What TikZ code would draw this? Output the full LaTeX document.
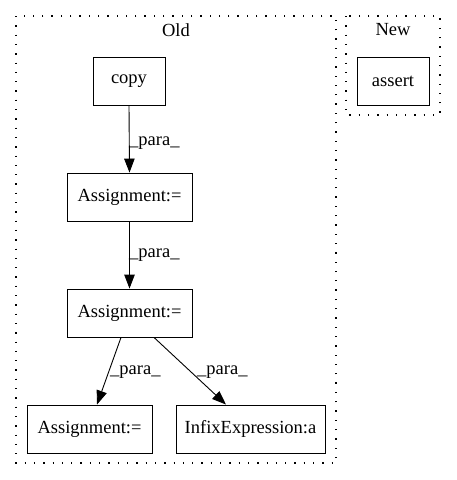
\documentclass[tikz,border=0pt]{standalone}
\usepackage{fontspec}
\setmainfont{Liberation Serif}
\usetikzlibrary{arrows.meta}
\begin{document}
\begin{tikzpicture}[x=1pt,y=-1pt,
  box/.style={draw,line width=0.9pt,rectangle,inner sep=0pt,font=\fontsize{18.5pt}{20pt}\selectfont},
  cluster/.style={draw,line width=1.3pt,dash pattern=on 1.3pt off 8pt},
  edge/.style={line width=0.9pt,-{Triangle[length=14pt,width=10.5pt]}},
  lbl/.style={inner sep=0pt,font=\fontsize{18.5pt}{20pt}\selectfont},
  ctitle/.style={inner sep=0pt,font=\fontsize{18.5pt}{20pt}\selectfont}]
\useasboundingbox (0,0) rectangle (456,480);
\draw[cluster] (16,16) rectangle (336,463);
\draw[cluster] (346,16) rectangle (440,115);
\node[ctitle] (oldt) at (176,30) {Old};
\node[ctitle] (newt) at (393,30) {New};
\node[box,minimum width=72pt,minimum height=48pt] (copy) at (129,81) {copy};
\node[box,minimum width=72pt,minimum height=48pt] (assert) at (393,81) {assert};
\node[box,minimum width=125pt,minimum height=48pt] (a1) at (129.5,197) {Assignment:=};
\node[box,minimum width=125pt,minimum height=48pt] (a2) at (129.5,313) {Assignment:=};
\node[box,minimum width=125pt,minimum height=48pt] (a3) at (89.5,429) {Assignment:=};
\node[box,minimum width=149pt,minimum height=48pt] (inf) at (250.5,429) {InfixExpression:a};
\draw[edge] (copy.south) -- (a1.north);
\draw[edge] (a1.south) -- (a2.north);
\draw[edge] (a2.south -| 121,0) -- (a3.north -| 97,0);
\draw[edge] (a2.south -| 154,0) -- (inf.north -| 226,0);
\node[lbl,anchor=west] (l1) at (129,143) {\_para\_};
\node[lbl,anchor=west] (l2) at (129,255) {\_para\_};
\node[lbl,anchor=west] (l3) at (110,372) {\_para\_};
\node[lbl,anchor=west] (l4) at (197,372) {\_para\_};
\end{tikzpicture}
\end{document}
